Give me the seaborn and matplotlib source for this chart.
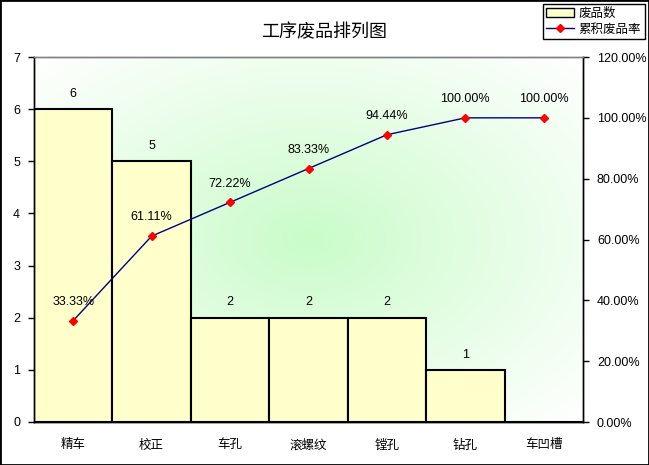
import numpy as np
import pandas as pd
import matplotlib
matplotlib.use('Agg')
import matplotlib.pyplot as plt
import seaborn as sns
from matplotlib.patches import Patch, Rectangle
from matplotlib.lines import Line2D
from matplotlib.colors import to_rgb
from matplotlib.ticker import FuncFormatter

# ---- data ----
categories = ['精车', '校正', '车孔', '滚螺纹', '镗孔', '钻孔', '车凹槽']
counts = [6, 5, 2, 2, 2, 1, 0]
cum_pct = [33.33, 61.11, 72.22, 83.33, 94.44, 100.00, 100.00]
left_ticks = [0, 1, 2, 3, 4, 5, 6, 7]
right_ticks = [0, 20, 40, 60, 80, 100, 120]
title = '工序废品排列图'
bar_name = '废品数'
line_name = '累积废品率'

plt.rcParams['font.family'] = ['Liberation Sans', 'Noto Sans CJK SC', 'DejaVu Sans']
plt.rcParams['axes.unicode_minus'] = False

fig = plt.figure(figsize=(6.49, 4.65), dpi=100)
fig.patch.set_facecolor('white')
ax = fig.add_axes([34/649, 1-422/465, (583-34)/649, (422-57)/465])

df = pd.DataFrame({'工序': categories, '废品数': counts})

# gradient background
ny, nx = 200, 300
yy, xx = np.mgrid[0:1:ny*1j, 0:1:nx*1j]
d = np.sqrt(((xx-0.5)/0.5)**2 + ((yy-0.5)/0.5)**2) / np.sqrt(2)
d = np.clip(d, 0, 1) ** 0.9
cc = np.array(to_rgb('#C8FCC8'))
img = cc*(1-d[..., None]) + np.ones(3)*d[..., None]
ax.imshow(img, extent=[0, 1, 0, 1], transform=ax.transAxes, aspect='auto', zorder=0)

sns.barplot(data=df, x='工序', y='废品数', width=1.0, color='#FFFFCC', saturation=1,
            edgecolor='black', linewidth=1.5, ax=ax, zorder=2)
ax.set_xlim(-0.5, len(categories)-0.5)
ax.set_ylim(0, 7)
ax.set_yticks(left_ticks)
ax.set_xlabel('')
ax.set_ylabel('')
ax.tick_params(axis='y', left=True, length=4, width=1, direction='out', labelsize=9, colors='black', pad=6)
ax.tick_params(axis='x', bottom=False, labelsize=9, colors='black', pad=9)

for i, v in enumerate(counts):
    if v > 0:
        ax.annotate(str(v), (i, v), xytext=(0, 11), textcoords='offset points',
                    ha='center', va='center', fontsize=9, zorder=5)

ax2 = ax.twinx()
x_idx = np.arange(len(categories))
ax2.plot(x_idx, cum_pct, color='#000080', lw=1, marker='D', mfc='red', mec='red', ms=4, zorder=4)
ax2.set_ylim(0, 120)
ax2.set_yticks(right_ticks)
ax2.yaxis.set_major_formatter(FuncFormatter(lambda v, p: f'{v:.2f}%'))
ax2.tick_params(axis='y', right=True, length=4, width=1, direction='out', labelsize=9, colors='black', pad=6)
for i, v in enumerate(cum_pct):
    ax2.annotate(f'{v:.2f}%', (i, v), xytext=(0, 13.5), textcoords='offset points',
                 ha='center', va='center', fontsize=9, zorder=5)

for a in (ax, ax2):
    a.spines['top'].set_color('#808080')
    a.spines['right'].set_color('black')
    a.spines['left'].set_color('black')
    a.spines['bottom'].set_color('black')
    for s in a.spines.values():
        s.set_linewidth(1)

fig.text(0.5, 1-32/465, title, ha='center', va='center', fontsize=13)

handles = [Patch(facecolor='#FFFFCC', edgecolor='black', linewidth=1),
           Line2D([0], [0], color='#000080', lw=1, marker='D', mfc='red', mec='red', ms=4)]
leg = fig.legend(handles, [bar_name, line_name], loc='upper right',
                 bbox_to_anchor=(645/649, 1-4/465), fontsize=9, frameon=True,
                 fancybox=False, edgecolor='black', framealpha=1, handlelength=2.2,
                 borderpad=0.3, labelspacing=0.3, handletextpad=0.4, borderaxespad=0)
leg.get_frame().set_linewidth(1)

fig.patches.append(Rectangle((0, 0), 1, 1, transform=fig.transFigure, fill=False,
                             edgecolor='black', lw=2))

fig.savefig('out.png', dpi=100)
